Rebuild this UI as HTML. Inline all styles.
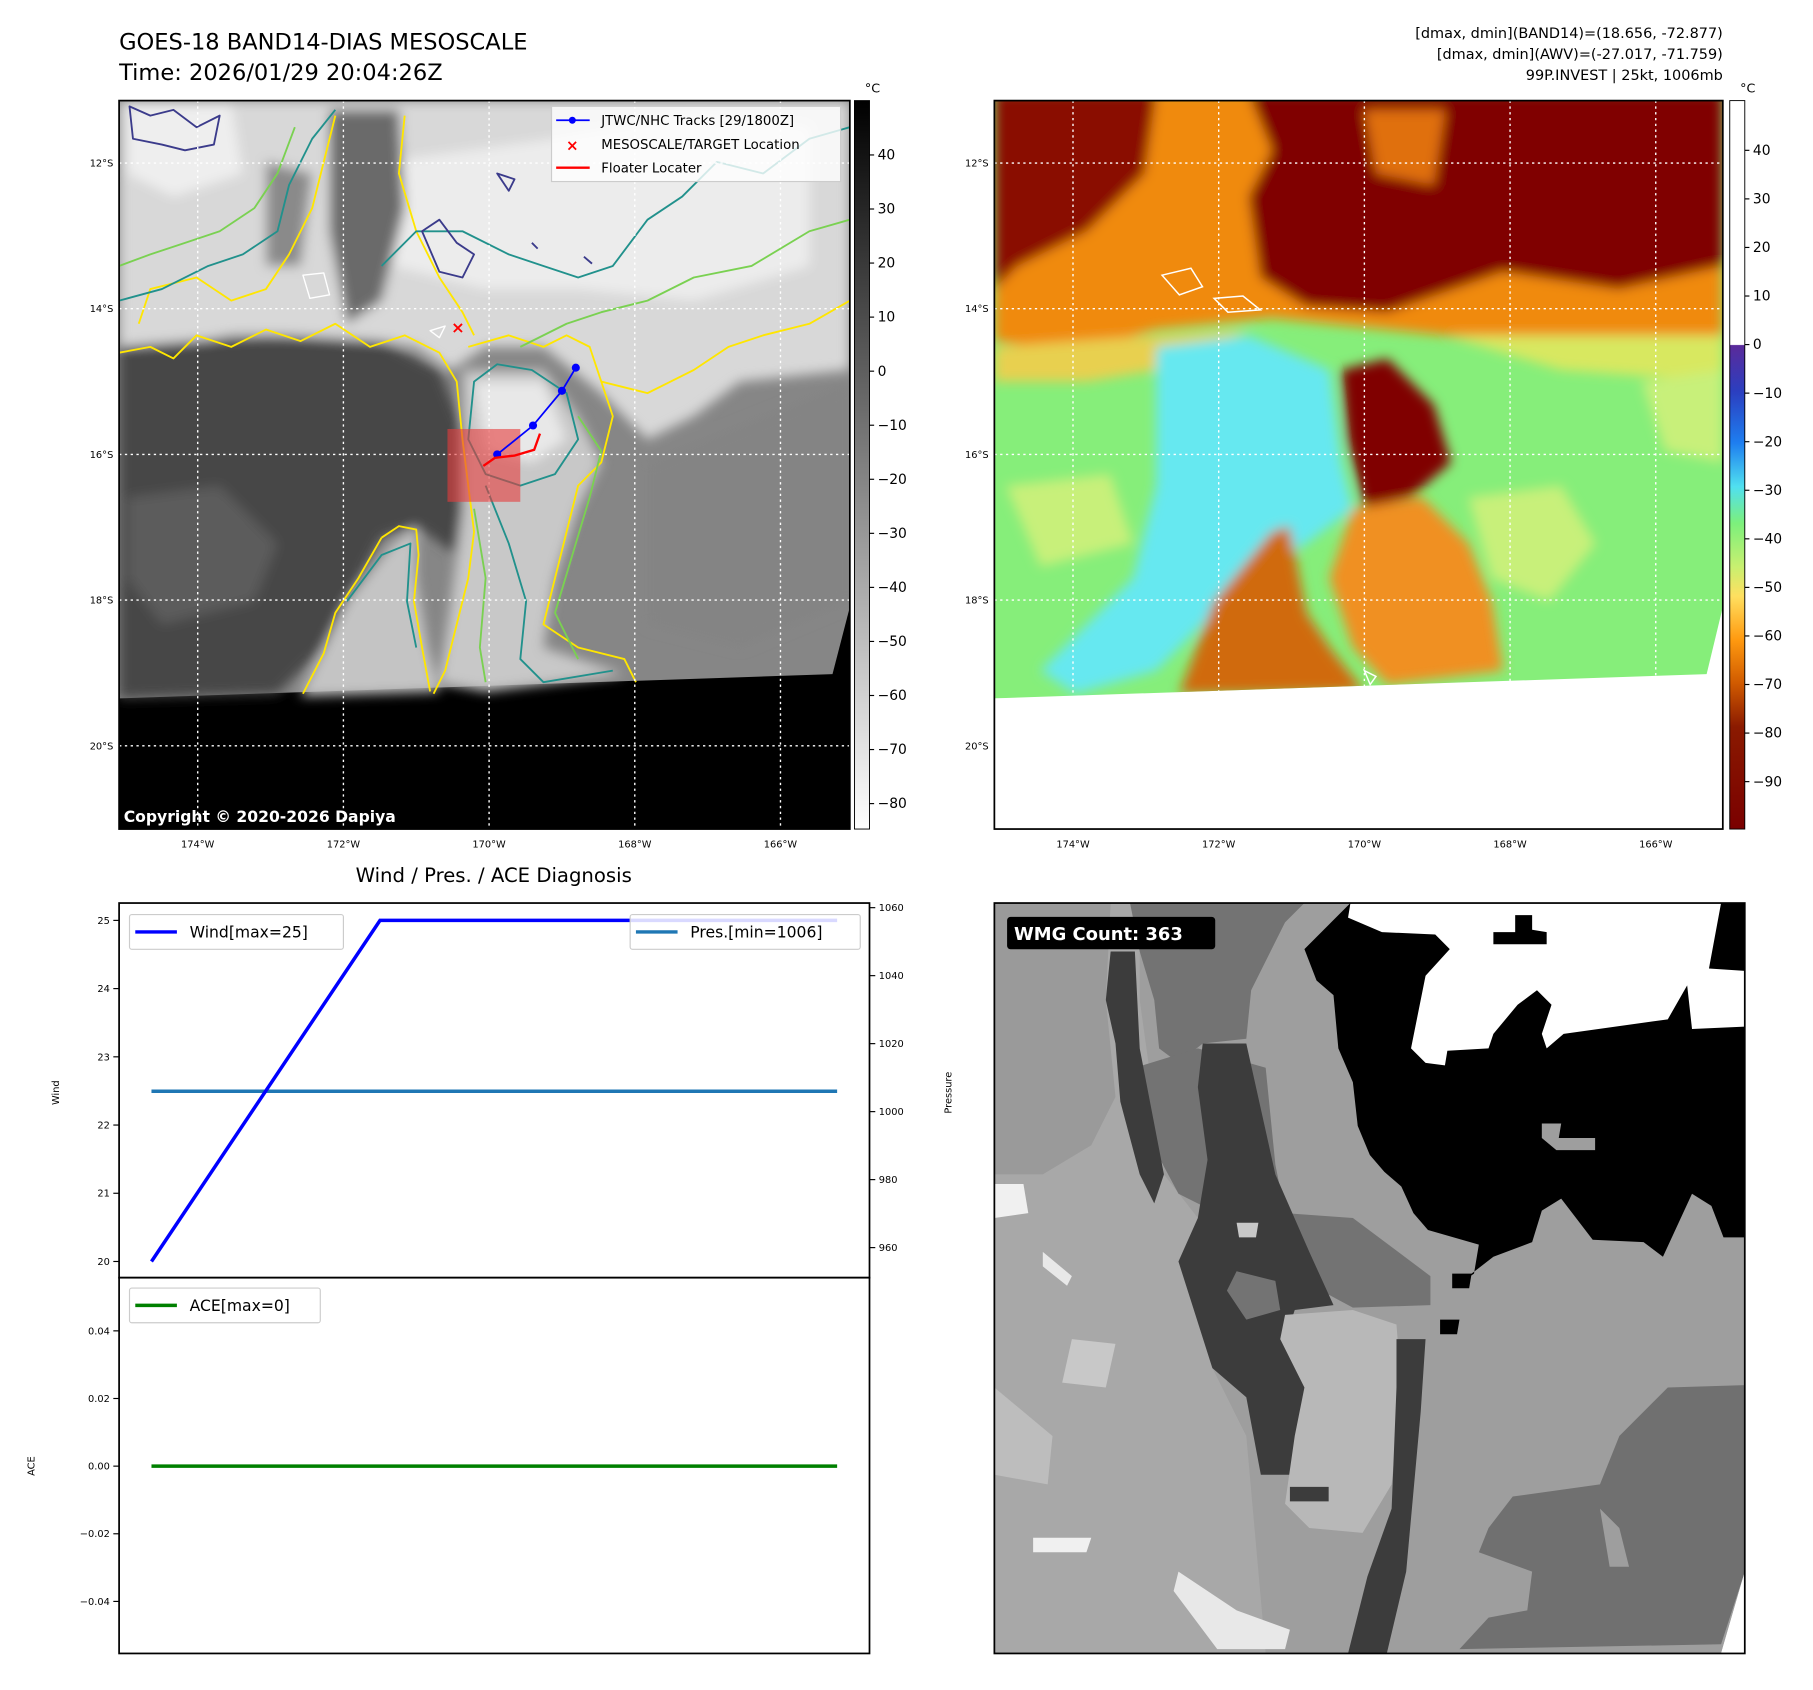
<!DOCTYPE html>
<html><head><meta charset="utf-8">
<style>
html,body{margin:0;padding:0;background:#fff;}
svg{display:block;font-family:"DejaVu Sans","Liberation Sans",sans-serif;}
</style></head>
<body>
<svg id="fig" width="1813" height="1690" viewBox="0 0 1568 1461.6" xmlns="http://www.w3.org/2000/svg">
<defs>
<filter id="bl" x="-5%" y="-5%" width="110%" height="110%"><feGaussianBlur stdDeviation="5"/></filter>
<clipPath id="cpL"><rect x="103" y="87" width="632" height="630"/></clipPath>
<clipPath id="cpR"><rect x="860" y="87" width="630" height="630"/></clipPath>
<clipPath id="cpW"><rect x="860" y="781" width="649" height="649"/></clipPath>
<linearGradient id="cbGray" x1="0" y1="0" x2="0" y2="1">
<stop offset="0" stop-color="#000"/><stop offset="1" stop-color="#fff"/></linearGradient>
<linearGradient id="cbCol" x1="0" y1="0" x2="0" y2="1">
<stop offset="0" stop-color="#fff"/><stop offset="0.335" stop-color="#fff"/>
<stop offset="0.336" stop-color="#5a2a9a"/><stop offset="0.40" stop-color="#2b3fc0"/>
<stop offset="0.47" stop-color="#1e7ef0"/><stop offset="0.53" stop-color="#50e0f0"/>
<stop offset="0.58" stop-color="#7cf07c"/><stop offset="0.64" stop-color="#c8f070"/>
<stop offset="0.68" stop-color="#ffe060"/><stop offset="0.74" stop-color="#ff9a10"/>
<stop offset="0.80" stop-color="#d05a00"/><stop offset="0.86" stop-color="#8a1a00"/>
<stop offset="1" stop-color="#7a0000"/></linearGradient>
</defs>

<text x="103" y="43" font-size="19.5">GOES-18 BAND14-DIAS MESOSCALE</text>
<text x="103" y="69" font-size="19.5">Time: 2026/01/29 20:04:26Z</text>
<g font-size="12.5" text-anchor="end">
<text x="1490" y="33">[dmax, dmin](BAND14)=(18.656, -72.877)</text>
<text x="1490" y="51">[dmax, dmin](AWV)=(-27.017, -71.759)</text>
<text x="1490" y="69">99P.INVEST | 25kt, 1006mb</text>
</g>

<g clip-path="url(#cpL)">
<rect x="103" y="87" width="632" height="630" fill="#000"/>
<polygon points="103,87 735,87 735,525 720,583 103,604" fill="#868686"/>
<g filter="url(#bl)">
<polygon points="103,87 735,87 735,320 640,330 600,360 560,380 520,340 470,300 420,300 390,320 360,300 330,295 250,290 200,290 150,300 103,300" fill="#d8d8d8"/>
<polygon points="330,140 480,120 600,100 700,110 700,230 600,260 500,250 420,250 340,230" fill="#ececec"/>
<polygon points="110,90 200,90 210,150 150,170 110,150" fill="#eeeeee"/>
<polygon points="285,95 345,95 350,180 330,260 300,280 285,200" fill="#6a6a6a"/>
<polygon points="230,140 270,150 260,230 230,230" fill="#8a8a8a"/>
<polygon points="103,300 230,290 330,295 380,320 400,370 410,430 395,480 360,455 330,465 300,520 280,560 240,600 103,604" fill="#474747"/>
<polygon points="110,430 190,420 240,470 220,520 140,540 110,500" fill="#5c5c5c"/>
<polygon points="400,320 470,320 500,360 520,400 500,440 480,500 470,560 540,583 420,598 380,590 390,520 400,440" fill="#c8c8c8"/>
<polygon points="410,330 470,330 490,380 460,400 420,390" fill="#e8e8e8"/>
<polygon points="300,520 340,470 360,455 360,500 370,560 380,598 260,602 280,560" fill="#c4c4c4"/>
<polygon points="560,400 735,330 735,520 640,560 560,540" fill="#848484"/>
</g>
<g fill="none" stroke-width="1.6" stroke-linejoin="round">
<path d="M103,305 L130,300 L150,310 L170,290 L200,300 L230,285 L260,295 L290,280 L320,300 L350,290 L380,305 L395,330 L400,380 L405,420 L410,460 L405,500 L395,540 L385,580 L375,600" stroke="#ffe600"/>
<path d="M330,465 L345,455 L360,458 L362,480 L358,520 L365,560 L372,598 M330,465 L310,500 L290,530 L280,565 L262,600" stroke="#ffe600"/>
<path d="M405,300 L440,290 L470,300 L490,290 L510,300 L520,330 L530,360 L520,400 L500,420 L490,460 L480,500 L470,540 L500,560 L540,570 L550,590" stroke="#ffe600"/>
<path d="M520,330 L560,340 L600,320 L630,300 L660,290 L700,280 L735,260" stroke="#ffe600"/>
<path d="M120,280 L130,250 L170,240 L200,260 L230,250 L250,220 L270,180 L280,140 L290,100" stroke="#ffe600"/>
<path d="M350,100 L345,150 L360,200 L380,240 L400,270 L410,290" stroke="#ffe600"/>
<path d="M103,260 L140,250 L180,230 L210,220 L240,200 L250,160 L270,120 L290,95" stroke="#21918c"/>
<path d="M330,230 L360,200 L400,200 L440,220 L470,230 L500,240 L530,230 L560,190 L590,170 L620,140 L660,150 L700,120 L735,110" stroke="#21918c"/>
<path d="M410,330 L430,315 L460,320 L490,340 L500,380 L480,410 L450,420 L420,410 L405,380 Z" stroke="#21918c"/>
<path d="M420,420 L440,470 L455,520 L450,570 L470,590 L530,580" stroke="#21918c"/>
<path d="M300,520 L330,480 L355,470 L352,520 L360,560" stroke="#21918c"/>
<path d="M103,230 L130,220 L160,210 L190,200 L220,180 L240,150 L255,110" stroke="#7ad151"/>
<path d="M450,300 L490,280 L520,270 L560,260 L600,240 L650,230 L700,200 L735,190" stroke="#7ad151"/>
<path d="M500,360 L520,390 L510,430 L495,480 L480,530 L500,570" stroke="#7ad151"/>
<path d="M410,440 L420,500 L415,560 L420,590" stroke="#7ad151"/>
<path d="M112,92 L130,100 L150,95 L170,110 L190,100 L185,125 L160,130 L140,125 L115,120 Z" stroke="#3b3b8b"/>
<path d="M365,200 L380,190 L395,210 L410,220 L400,240 L380,235 Z" stroke="#3b3b8b"/>
<path d="M430,150 L445,155 L440,165 Z M505,222 L512,228 M460,210 L465,215" stroke="#3b3b8b"/>
<path d="M262,238 L280,236 L285,255 L268,258 Z M372,286 L385,282 L380,292 Z" stroke="#fff" stroke-width="1.2"/>
</g>
<g stroke="#fff" stroke-width="1.2" stroke-dasharray="2,3">
<line x1="171" y1="87" x2="171" y2="717"/><line x1="297" y1="87" x2="297" y2="717"/><line x1="423" y1="87" x2="423" y2="717"/><line x1="549" y1="87" x2="549" y2="717"/><line x1="675" y1="87" x2="675" y2="717"/>
<line x1="103" y1="141" x2="735" y2="141"/><line x1="103" y1="267" x2="735" y2="267"/><line x1="103" y1="393" x2="735" y2="393"/><line x1="103" y1="519" x2="735" y2="519"/><line x1="103" y1="645" x2="735" y2="645"/>
</g>
<rect x="387" y="371" width="63" height="63" fill="rgba(230,60,60,0.6)"/>
<polyline points="498,318 486,338 461,368 430,393" fill="none" stroke="#0000ff" stroke-width="1.5"/>
<g fill="#0000ff"><circle cx="498" cy="318" r="3.5"/><circle cx="486" cy="338" r="3.5"/><circle cx="461" cy="368" r="3.5"/><circle cx="430" cy="393" r="3.5"/></g>
<polyline points="418,403 428,396 445,394 462,389 467,375" fill="none" stroke="#ff0000" stroke-width="2"/>
<text x="396" y="288" font-size="14" font-weight="bold" fill="#ff0000" text-anchor="middle">×</text>
<g>
<rect x="477" y="92" width="250" height="65" fill="#fff" fill-opacity="0.8" stroke="#ccc"/>
<line x1="481" y1="104" x2="510" y2="104" stroke="#00f" stroke-width="1.5"/><circle cx="495" cy="104" r="3" fill="#00f"/>
<text x="520" y="108" font-size="11.5">JTWC/NHC Tracks [29/1800Z]</text>
<text x="495" y="130" font-size="13" font-weight="bold" fill="#f00" text-anchor="middle">×</text>
<text x="520" y="129" font-size="11.5">MESOSCALE/TARGET Location</text>
<line x1="481" y1="145" x2="510" y2="145" stroke="#f00" stroke-width="2"/>
<text x="520" y="149" font-size="11.5">Floater Locater</text>
</g>
<text x="107" y="711" font-size="13.5" font-weight="bold" fill="#fff">Copyright © 2020-2026 Dapiya</text>
</g>
<rect x="103" y="87" width="632" height="630" fill="none" stroke="#000" stroke-width="1.5"/>

<g>
<rect x="739" y="87" width="13" height="630" fill="url(#cbGray)" stroke="#000" stroke-width="0.8"/>
<text x="748" y="80" font-size="11">°C</text>
<g id="cbLticks" font-size="12"></g>
</g>

<g clip-path="url(#cpR)">
<rect x="860" y="87" width="630" height="630" fill="#fff"/>
<clipPath id="cpData"><polygon points="860,87 1490,87 1490,525 1476,583 860,604"/></clipPath>
<g clip-path="url(#cpData)">
<rect x="860" y="87" width="630" height="520" fill="#86ee7a"/>
<g filter="url(#bl)">
<polygon points="860,80 1490,80 1490,300 1400,310 1300,295 1200,285 1100,275 1000,285 930,305 860,295" fill="#f08a10"/>
<polygon points="860,300 1000,290 1080,285 1000,320 940,330 860,330" fill="#e8d050"/>
<polygon points="1250,290 1490,290 1490,330 1350,320" fill="#d8e860"/>
<polygon points="860,80 1000,80 990,150 940,200 880,230 860,250" fill="#8a0a00"/>
<polygon points="1080,80 1490,80 1490,230 1400,250 1300,235 1200,270 1130,265 1090,240 1080,170 1100,130" fill="#800000"/>
<polygon points="1180,95 1250,95 1240,160 1190,150" fill="#e07010"/>
<polygon points="1000,300 1080,290 1150,320 1160,400 1170,440 1130,470 1080,500 1040,540 1000,580 930,600 900,580 980,500 1000,420" fill="#66e8f0"/>
<polygon points="1160,320 1200,310 1240,350 1255,400 1220,430 1180,440 1165,380" fill="#800000"/>
<polygon points="1170,440 1230,430 1270,470 1290,520 1300,580 1200,592 1170,560 1150,500" fill="#f09020"/>
<polygon points="1020,600 1050,520 1100,460 1115,455 1130,530 1150,560 1180,598" fill="#d06a10"/>
<polygon points="1270,430 1350,420 1380,470 1340,520 1290,500" fill="#c8f07a"/>
<polygon points="1420,330 1490,320 1490,400 1440,390" fill="#c8f07a"/>
<polygon points="870,420 960,410 980,470 900,490" fill="#c8f07a"/>
</g>
</g>
<g fill="none" stroke="#fff" stroke-width="1.3">
<path d="M1005,238 L1030,232 L1040,248 L1020,255 Z M1050,258 L1075,256 L1090,268 L1062,270 Z M1180,580 L1190,585 L1185,592 Z"/>
</g>
<g stroke="#fff" stroke-width="1.2" stroke-dasharray="2,3">
<line x1="928" y1="87" x2="928" y2="717"/><line x1="1054" y1="87" x2="1054" y2="717"/><line x1="1180" y1="87" x2="1180" y2="717"/><line x1="1306" y1="87" x2="1306" y2="717"/><line x1="1432" y1="87" x2="1432" y2="717"/>
<line x1="860" y1="141" x2="1490" y2="141"/><line x1="860" y1="267" x2="1490" y2="267"/><line x1="860" y1="393" x2="1490" y2="393"/><line x1="860" y1="519" x2="1490" y2="519"/><line x1="860" y1="645" x2="1490" y2="645"/>
</g>
</g>
<rect x="860" y="87" width="630" height="630" fill="none" stroke="#000" stroke-width="1.5"/>
<g>
<rect x="1496" y="87" width="13" height="630" fill="url(#cbCol)" stroke="#000" stroke-width="0.8"/>
<text x="1505" y="80" font-size="11">°C</text>
<g id="cbRticks" font-size="12"></g>
</g>

<g font-size="8.5">
<g text-anchor="end">
<text x="98" y="144">12°S</text><text x="98" y="270">14°S</text><text x="98" y="396">16°S</text><text x="98" y="522">18°S</text><text x="98" y="648">20°S</text>
<text x="855" y="144">12°S</text><text x="855" y="270">14°S</text><text x="855" y="396">16°S</text><text x="855" y="522">18°S</text><text x="855" y="648">20°S</text>
</g>
<g text-anchor="middle">
<text x="171" y="733">174°W</text><text x="297" y="733">172°W</text><text x="423" y="733">170°W</text><text x="549" y="733">168°W</text><text x="675" y="733">166°W</text>
<text x="928" y="733">174°W</text><text x="1054" y="733">172°W</text><text x="1180" y="733">170°W</text><text x="1306" y="733">168°W</text><text x="1432" y="733">166°W</text>
</g>
</g>

<text x="427" y="763" font-size="17" text-anchor="middle">Wind / Pres. / ACE Diagnosis</text>
<g id="diag"></g>
<rect x="103" y="781" width="649" height="324" fill="none" stroke="#000" stroke-width="1.5"/>
<rect x="103" y="1105" width="649" height="325" fill="none" stroke="#000" stroke-width="1.5"/>
<text transform="translate(51,945) rotate(-90)" font-size="8.5" text-anchor="middle">Wind</text>
<text transform="translate(823,945) rotate(-90)" font-size="8.5" text-anchor="middle">Pressure</text>
<text transform="translate(30,1268) rotate(-90)" font-size="8.5" text-anchor="middle">ACE</text>

<g clip-path="url(#cpW)">
<rect x="860" y="781" width="649" height="649" fill="#fff"/>
<g transform="translate(860,781) scale(0.419)">
<polygon points="0,0 1505,0 1549,0 1549,1380 1500,1549 0,1549" fill="#9e9e9e"/>
<polygon points="0,0 300,0 300,200 350,560 420,650 380,740 450,960 520,1100 560,1549 0,1549" fill="#a8a8a8"/>
<polygon points="0,0 240,0 230,200 250,400 200,500 100,560 0,560" fill="#9a9a9a"/>
<polygon points="280,0 640,0 600,40 530,180 520,280 430,290 380,330 340,300 330,200 300,100" fill="#737373"/>
<polygon points="290,340 420,300 560,340 580,540 600,640 740,650 900,770 900,830 740,835 600,760 480,650 380,600 300,450" fill="#737373"/>
<polygon points="240,100 290,100 300,300 350,560 330,620 300,560 260,410 250,290 230,200" fill="#3c3c3c"/>
<polygon points="430,290 520,290 580,560 650,720 700,830 620,840 600,900 650,1000 660,1180 550,1180 520,1020 450,960 380,740 420,650 440,530 420,380" fill="#3c3c3c"/>
<polygon points="500,660 545,660 540,690 505,690" fill="#c8c8c8"/>
<polygon points="500,760 580,780 590,840 520,860 480,800" fill="#737373"/>
<polygon points="600,850 740,840 830,870 840,1000 820,1200 760,1300 650,1290 600,1240 620,1100 640,1000 590,900" fill="#b8b8b8"/>
<polygon points="830,900 890,900 880,1050 850,1380 810,1549 730,1549 770,1390 820,1250 830,1000" fill="#3c3c3c"/>
<polygon points="610,1205 690,1205 690,1235 610,1235" fill="#3c3c3c"/>
<polygon points="0,580 60,580 70,640 0,650" fill="#f0f0f0"/>
<polygon points="100,720 160,770 150,790 100,750" fill="#e8e8e8"/>
<polygon points="80,1310 200,1310 190,1340 80,1340" fill="#f0f0f0"/>
<polygon points="380,1380 500,1460 610,1500 600,1540 460,1540 370,1420" fill="#e8e8e8"/>
<polygon points="160,900 250,910 230,1000 140,990" fill="#c8c8c8"/>
<polygon points="0,1000 120,1100 110,1200 0,1180" fill="#bdbdbd"/>
<polygon points="735,0 1549,0 1549,690 1505,690 1480,625 1440,600 1380,730 1340,700 1235,695 1170,610 1130,635 1110,700 1030,730 985,765 945,795 990,765 1000,705 895,675 865,640 840,585 805,555 775,520 750,460 740,370 710,300 700,190 665,160 640,95" fill="#000"/>
<polygon points="945,765 985,765 980,795 945,795" fill="#000"/>
<polygon points="920,860 960,860 955,890 920,890" fill="#000"/>
<polygon points="735,0 1500,0 1475,135 1549,140 1549,255 1440,260 1430,170 1390,240 1175,270 1140,300 1130,270 1150,210 1120,180 1080,210 1030,270 1020,300 935,305 930,335 890,330 860,300 890,150 940,95 910,65 800,60 730,30" fill="#fff"/>
<polygon points="1030,60 1075,60 1075,25 1110,25 1110,55 1140,60 1140,85 1030,85" fill="#000"/>
<polygon points="1130,455 1170,455 1165,485 1240,485 1240,510 1160,510 1130,485" fill="#9e9e9e"/>
<polygon points="1549,995 1390,1000 1350,1040 1290,1100 1250,1200 1070,1225 1020,1290 1000,1340 1110,1380 1100,1460 1020,1475 960,1540 1500,1530 1549,1380" fill="#707070"/>
<polygon points="1250,1250 1290,1290 1310,1370 1270,1370" fill="#9e9e9e"/>
<polygon points="1549,1380 1500,1549 1549,1549" fill="#fff"/>
</g>
<rect x="871" y="793" width="180" height="28" rx="3" fill="#000"/>
<text x="877" y="813" font-size="15.5" font-weight="bold" fill="#fff">WMG Count: 363</text>
</g>
<rect x="860" y="781" width="649" height="649" fill="none" stroke="#000" stroke-width="1.5"/>
</svg>

<script>
var hours = [0, 6, 18];
var windValues = [20, 25, 25];
var presValues = [1006, 1006, 1006];
var aceValues = [0, 0, 0];
var windTicks = [20, 21, 22, 23, 24, 25];
var presTicks = [960, 980, 1000, 1020, 1040, 1060];
var aceTicks = [-0.04, -0.02, 0.00, 0.02, 0.04];
var grayCbTicks = [40, 30, 20, 10, 0, -10, -20, -30, -40, -50, -60, -70, -80];
var colCbTicks = [40, 30, 20, 10, 0, -10, -20, -30, -40, -50, -60, -70, -80, -90];

var NS = "http://www.w3.org/2000/svg";
function xH(h){ return 131 + (h - 0) * (724 - 131) / 18; }
function yWind(w){ return 1091 - (w - 20) * 59; }
function yPres(p){ return 1079 - (p - 960) * 2.94; }
function yAce(a){ return 1268 - a * 2925; }
function yGrayCb(v){ return 134 + (40 - v) * 4.675; }
function yColCb(v){ return 130 + (40 - v) * 4.2; }

function mk(tag, attrs, parent){
  var e = document.createElementNS(NS, tag);
  for (var k in attrs) e.setAttribute(k, attrs[k]);
  parent.appendChild(e); return e;
}
var diag = document.getElementById('diag');

function tickSet(vals, yf, side, fmt, name){
  vals.forEach(function(v){
    var y = yf(v);
    var g = mk('g', {}, diag);
    
    
    if (side === 'left'){
      mk('line', {x1:98, y1:y, x2:103, y2:y, stroke:'#000', 'stroke-width':1}, g);
      var t = mk('text', {x:95, y:y+3, 'font-size':8.5, 'text-anchor':'end'}, g);
      t.textContent = fmt(v);
    } else {
      mk('line', {x1:752, y1:y, x2:757, y2:y, stroke:'#000', 'stroke-width':1}, g);
      var t2 = mk('text', {x:760, y:y+3, 'font-size':8.5}, g);
      t2.textContent = fmt(v);
    }
  });
}
tickSet(windTicks, yWind, 'left', function(v){return String(v);}, 'wind-tick');
tickSet(presTicks, yPres, 'right', function(v){return String(v);}, 'pressure-tick');
tickSet(aceTicks, yAce, 'left', function(v){ return (v < 0 ? '\u22120' : '0') + '.' + Math.abs(v).toFixed(2).split('.')[1]; }, 'ace-tick');

function series(vals, yf, color, name){
  var pts = hours.map(function(h, i){ return xH(h) + ',' + yf(vals[i]); }).join(' ');
  var p = mk('polyline', {points:pts, fill:'none', stroke:color, 'stroke-width':3}, diag);
  
  
}
series(presValues, yPres, '#1f77b4', 'pressure-line');
series(windValues, yWind, '#0000ff', 'wind-line');
series(aceValues, yAce, '#008000', 'ace-line');

function legend(x, y, w, color, label, name){
  var g = mk('g', {}, diag);
  
  
  mk('rect', {x:x, y:y, width:w, height:30, rx:2, fill:'#fff', 'fill-opacity':0.85, stroke:'#ccc'}, g);
  mk('line', {x1:x+5, y1:y+15, x2:x+41, y2:y+15, stroke:color, 'stroke-width':3}, g);
  var t = mk('text', {x:x+52, y:y+20, 'font-size':13.5}, g);
  t.textContent = label;
}
legend(112, 791, 185, '#0000ff', 'Wind[max=' + Math.max.apply(null, windValues) + ']', 'wind-legend');
legend(545, 791, 199, '#1f77b4', 'Pres.[min=' + Math.min.apply(null, presValues) + ']', 'pressure-legend');
legend(112, 1114, 165, '#008000', 'ACE[max=' + Math.max.apply(null, aceValues) + ']', 'ace-legend');

function cbTicks(id, vals, yf, x0){
  var g = document.getElementById(id);
  vals.forEach(function(v){
    var y = yf(v);
    var l = mk('line', {x1:x0, y1:y, x2:x0+4, y2:y, stroke:'#000', 'stroke-width':1}, g);
    
    
    var t = mk('text', {x:x0+7, y:y+4}, g);
    
    
    t.textContent = v < 0 ? '\u2212' + Math.abs(v) : String(v);
  });
}
cbTicks('cbLticks', grayCbTicks, yGrayCb, 752);
cbTicks('cbRticks', colCbTicks, yColCb, 1509);
</script>
</body></html>
